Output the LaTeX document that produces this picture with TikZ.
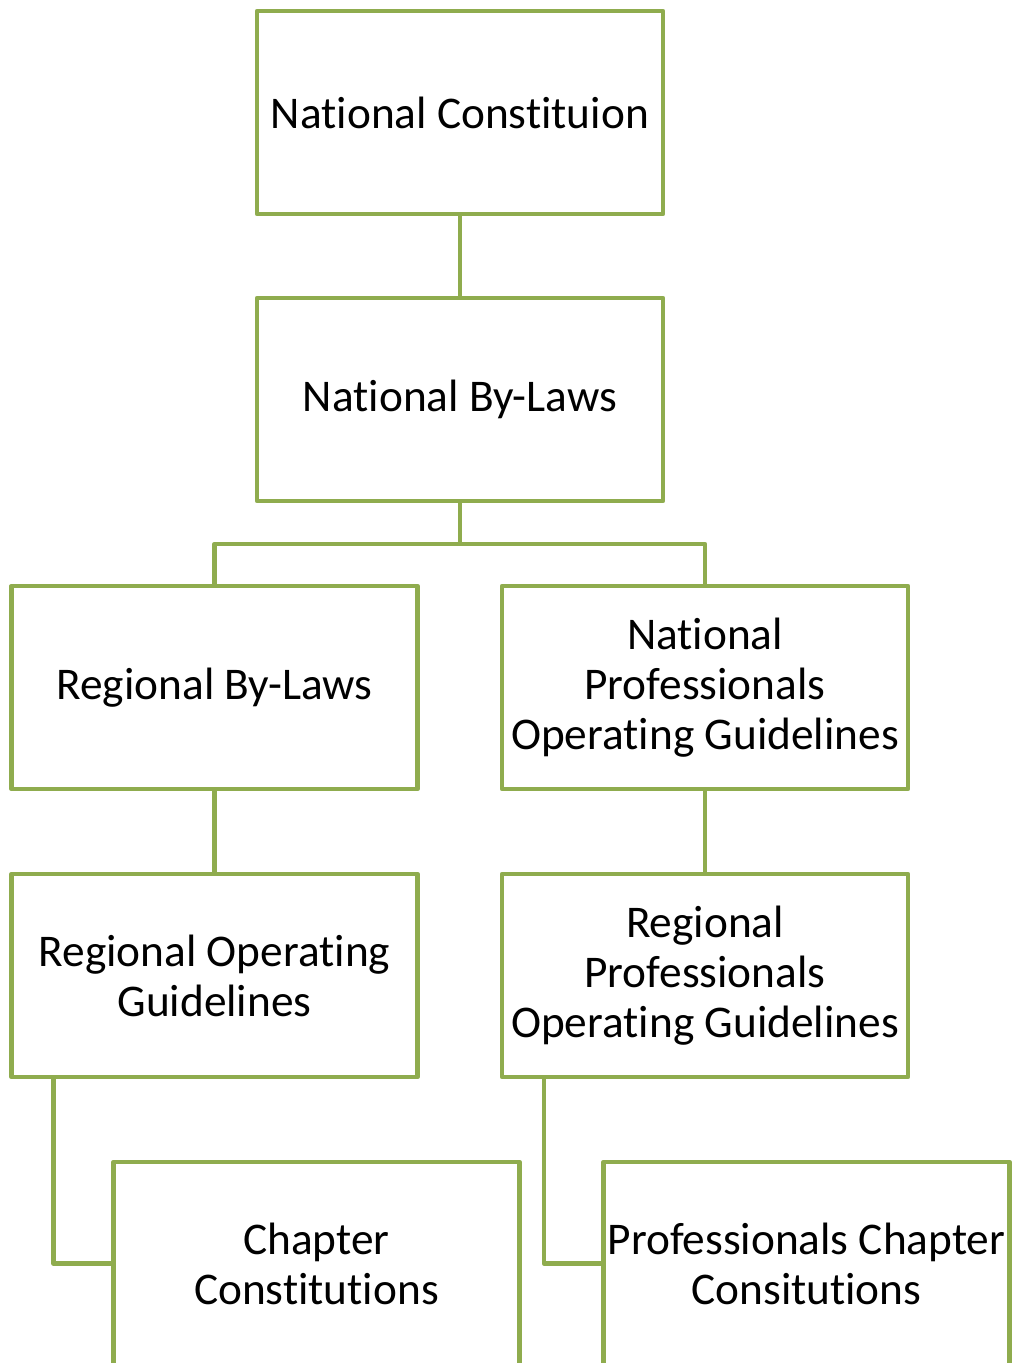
\documentclass[tikz,border=0pt]{standalone}
\usepackage{fontspec}
\setmainfont[Ligatures=NoCommon]{Carlito}
\usepackage{tikz}
\usetikzlibrary{positioning}
\definecolor{olive}{RGB}{143,172,78}

\begin{document}
\begin{tikzpicture}[x=0.75pt,y=-0.75pt,
	docbox/.style={draw=olive,line width=3.6pt,line join=round,fill=white,
		minimum width=304.5pt,minimum height=152.25pt,inner sep=1pt,outer sep=0pt,
		align=center,font=\fontsize{34}{37.5}\selectfont},
	link/.style={draw=olive,line width=3.6pt,line join=round}]
	\useasboundingbox (0,0) rectangle (1013,1363);
	\clip (0,0) rectangle (1013,1363);
	\node [docbox] (nc) at (460,112.5) {National Constituion};
	\node [docbox] (nb) at (460,399.5) {National By-Laws};
	\node [docbox] (rb) at (214.5,687.5) {Regional By-Laws};
	\node [docbox] (np) at (705,687.5) {National\\Professionals\\Operating Guidelines};
	\node [docbox] (ro) at (214.5,975.5) {Regional Operating\\Guidelines};
	\node [docbox] (rp) at (705,975.5) {Regional\\Professionals\\Operating Guidelines};
	\node [docbox] (cc) at (316.5,1263.5) {Chapter\\Constitutions};
	\node [docbox] (pc) at (806.5,1263.5) {Professionals Chapter\\Consitutions};
	\draw [link] (nc)--(nb);
	\draw [link] (nb.south)--++(0,43)-|(rb.north);
	\draw [link] (nb.south)--++(0,43)-|(np.north);
	\draw [link] (rb)--(ro);
	\draw [link] (np)--(rp);
	\draw [link] ([xshift=31.5pt]ro.south west)|-(cc.west);
	\draw [link] ([xshift=31.5pt]rp.south west)|-(pc.west);
\end{tikzpicture}
\end{document}
